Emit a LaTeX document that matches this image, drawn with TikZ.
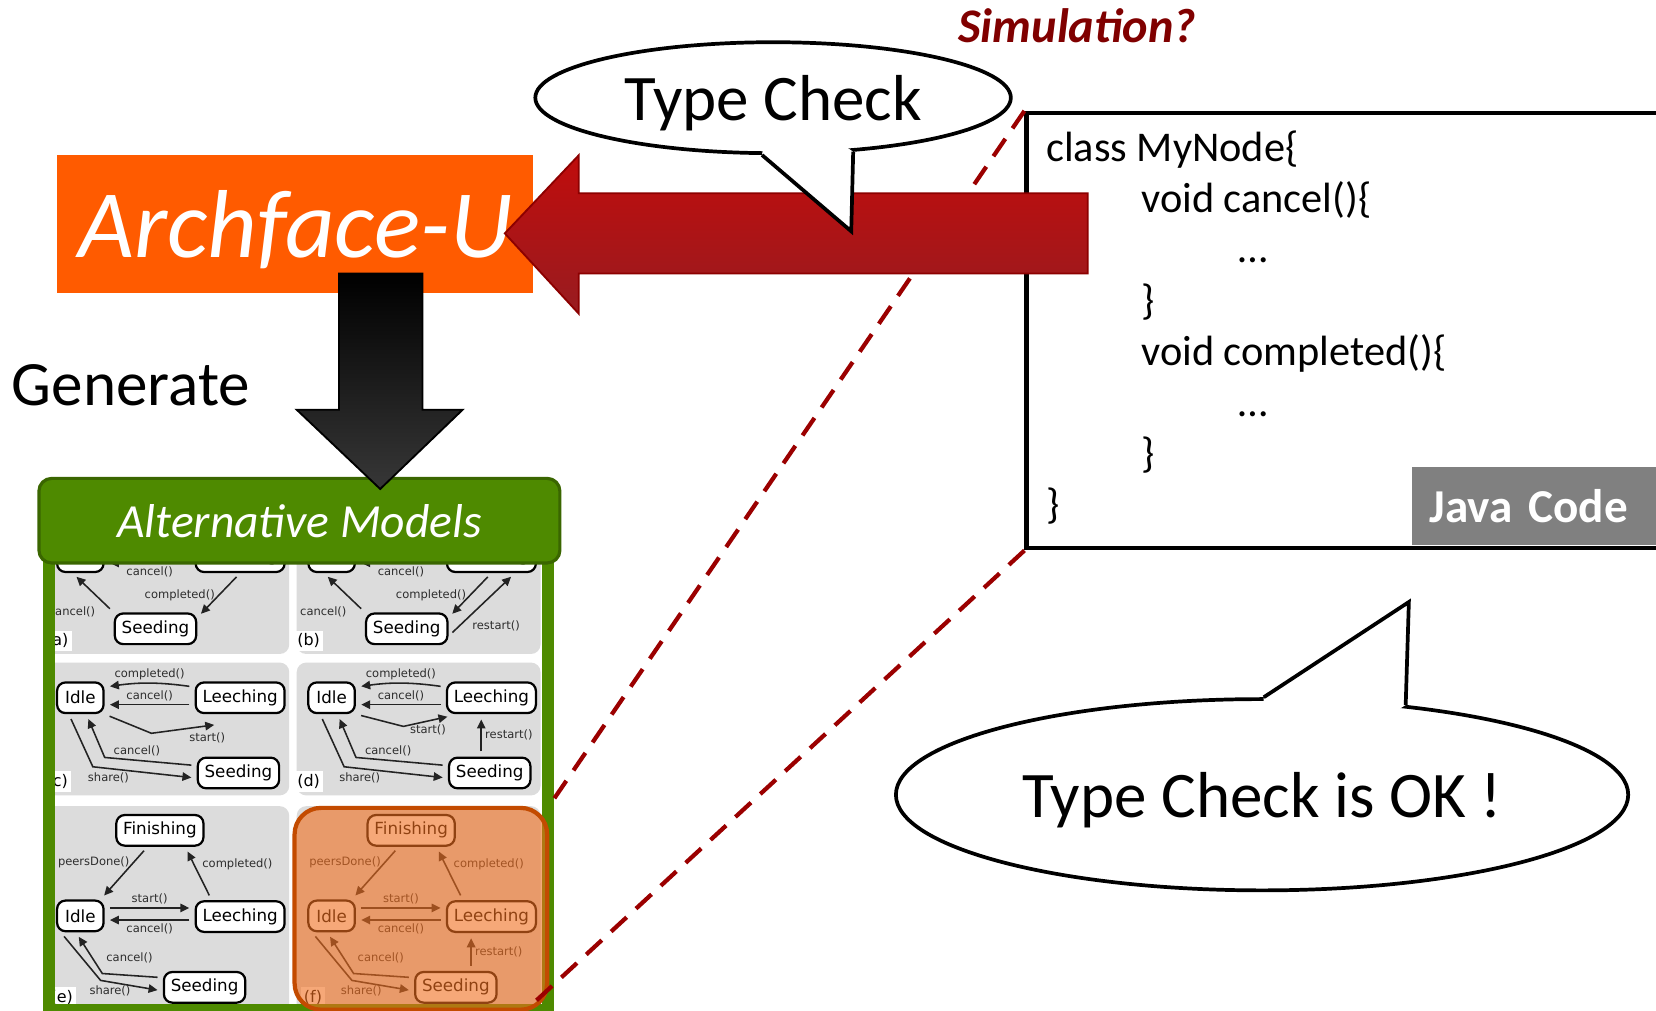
\documentclass[tikz,border=0pt]{standalone}
\usepackage{fontspec}
\setmainfont{Carlito}
\newfontfamily\figfont{DejaVu Sans}
\usepackage{tikz}
\usetikzlibrary{positioning,calc,shapes,arrows.meta}

\definecolor{archorange}{RGB}{255,91,0}
\definecolor{tcredtop}{RGB}{192,12,12}
\definecolor{tcredbot}{RGB}{152,28,32}
\definecolor{tcredline}{RGB}{140,0,0}
\definecolor{simred}{RGB}{128,0,0}
\definecolor{dashred}{RGB}{155,0,0}
\definecolor{genbot}{RGB}{55,55,55}
\definecolor{modelgreen}{RGB}{78,138,0}
\definecolor{modelgreendark}{RGB}{58,102,0}
\definecolor{panelgray}{RGB}{220,220,220}
\definecolor{figline}{RGB}{35,35,35}
\definecolor{figtext}{RGB}{45,45,45}
\definecolor{hlfill}{RGB}{240,110,30}
\definecolor{hlline}{RGB}{195,75,0}
\definecolor{javagray}{RGB}{128,128,128}

\tikzset{
  st/.style={draw=black, line width=0.6pt, fill=white, rounded corners=0.8mm,
    font=\figfont\fontsize{4.5}{5.4}\selectfont, inner xsep=0.65mm, inner ysep=0pt,
    minimum height=2.9mm, minimum width=4.4mm},
  tr/.style={draw=figline, line width=0.42pt, -{Triangle[length=0.85mm,width=0.8mm]},
    shorten >=0.5mm, shorten <=0.5mm},
  lbl/.style={font=\figfont\fontsize{3.1}{3.7}\selectfont, text=figtext, inner sep=0.3mm},
  plbl/.style={font=\figfont\fontsize{4.3}{5}\selectfont, fill=white, inner sep=0.3mm},
  panel/.style={fill=panelgray, rounded corners=0.9mm},
  frame/.style={draw=modelgreen, line width=1.15mm},
  titlebox/.style={draw=modelgreendark, line width=0.3mm, fill=modelgreen, rounded corners=1.2mm,
    text=white, font=\itshape\fontsize{12.8}{15}\selectfont},
  hl/.style={draw=hlline, line width=0.4mm, fill=hlfill, fill opacity=0.6, rounded corners=2.5mm},
  codebox/.style={draw=black, line width=0.4mm, fill=white},
  codetext/.style={anchor=base west, inner sep=0pt, font=\fontsize{11.4}{13}\selectfont},
  javabox/.style={fill=javagray, text=white, font=\bfseries\fontsize{12.7}{15}\selectfont,
    inner xsep=1.7mm, text width=2.3cm, minimum height=0.74cm, align=left},
  link/.style={draw=dashred, line width=0.4mm, dash pattern=on 2mm off 1.2mm},
  archbox/.style={fill=archorange, text=white, font=\itshape\fontsize{26}{30}\selectfont,
    text depth=0pt, inner sep=0pt},
  genarrow/.style={draw=black, line width=0.5pt, top color=black, bottom color=genbot},
  tcarrow/.style={draw=tcredline, line width=0.5pt, top color=tcredtop, bottom color=tcredbot},
  bubble/.style={ellipse, draw=black, fill=white, line width=1pt, inner sep=0pt,
    font=\fontsize{17.5}{21}\selectfont, text depth=0pt},
  bubbleline/.style={draw=black, line width=1pt},
}

\newcommand{\panelAB}[2]{%
  \fill[panel] (0,0) rectangle (720,384);
  \node[st] (idle) at (103,102) {Idle};
  \node[st] (lee) at (575,102) {Leeching};
  \node[st] (seed) at (325,311) {Seeding};
  \draw[tr] ($(lee.west)+(0,18)$) -- node[lbl, below] {cancel()} ($(idle.east)+(0,18)$);
  \draw[tr] (seed.north west) -- node[lbl, pos=0.02, left=1.3mm] {cancel()} (idle.-115);
  \draw[tr] (lee.south) -- node[lbl, left] {completed()} (seed.15);
  #2
  \node[plbl] (lab#1) at (35,346) {(#1)};
}

\newcommand{\panelCD}[3]{%
  \fill[panel] (0,0) rectangle (720,385);
  \node[st] (idle) at (103,102) {Idle};
  \node[st] (lee) at (575,102) {Leeching};
  \node[st] (seed) at (570,320) {Seeding};
  \draw[tr] ($(lee.west)+(0,-31)$) to[bend right=8] node[lbl, above] {completed()} ($(idle.east)+(0,-31)$);
  \draw[tr] ($(lee.west)+(0,20)$) -- node[lbl, above] {cancel()} ($(idle.east)+(0,20)$);
  \draw[tr] (idle.south east) -- #2;
  \draw[tr] (seed.170) -- node[lbl, pos=0.65, above] {cancel()} (175,275) -- (idle.-70);
  \draw[tr] (idle.-125) -- (140,302) -- node[lbl, pos=0.15, below] {share()} (seed.187);
  #3
  \node[plbl] (lab#1) at (35,345) {(#1)};
}

\newcommand{\panelEF}[2]{%
  \fill[panel] (0,0) rectangle (720,600);
  \node[st] (fin) at (338,70) {Finishing};
  \node[st] (idle) at (103,318) {Idle};
  \node[st] (lee) at (575,320) {Leeching};
  \node[st] (seed) at (470,525) {Seeding};
  \draw[tr] (fin.-127) -- node[lbl, pos=0.3, left] {peersDone()} (idle.39);
  \draw[tr] (lee.150) -- node[lbl, above right] {completed()} (fin.-33);
  \draw[tr] ($(idle.east)+(0,-23)$) -- node[lbl, above] {start()} ($(idle.east -| lee.west)+(0,-23)$);
  \draw[tr] ($(lee.west)+(0,10)$) -- node[lbl, below] {cancel()} ($(lee.west -| idle.east)+(0,10)$);
  \draw[tr] (seed.167) -- node[lbl, pos=0.55, above=0.8mm] {cancel()} (168,485) -- (idle.-105);
  \draw[tr] (idle.-140) -- (163,505) -- node[lbl, pos=0.15, below] {share()} (seed.185);
  #2
  \node[plbl] (lab#1) at (48,555) {(#1)};
}

\begin{document}
\begin{tikzpicture}[x=0.01cm, y=-0.01cm]
  \useasboundingbox (0,0) rectangle (1568,957);

  \begin{scope}
    \clip (46,520) rectangle (518,956);
    \fill[white] (46,520) rectangle (518,956);
    \begin{scope}[xshift=0.43cm, yshift=-4.935cm, x=0.0032cm, y=-0.00327cm]
      \panelAB{a}{}
    \end{scope}
    \begin{scope}[xshift=2.808cm, yshift=-4.935cm, x=0.0032cm, y=-0.00327cm]
      \panelAB{b}{\draw[tr] (seed.-10) -- node[lbl, pos=0.3, below right] {restart()} (lee.-35);}
    \end{scope}
    \begin{scope}[xshift=0.43cm, yshift=-6.27cm, x=0.0032cm, y=-0.00327cm]
      \panelCD{c}{(313,205) -- node[lbl, below right] {start()} ($(lee.south)+(-61,29)$)}{}
    \end{scope}
    \begin{scope}[xshift=2.808cm, yshift=-6.27cm, x=0.0032cm, y=-0.00327cm]
      \panelCD{d}{(315,185) -- node[lbl, below] {start()} ($(lee.south west)+(20,4)$)}%
        {\coordinate (r1) at ($(seed.north)+(-25,0)$);
         \draw[tr] (r1) -- node[lbl, right] {restart()} (r1 |- lee.south);}
    \end{scope}
    \begin{scope}[xshift=0.43cm, yshift=-7.629cm, x=0.0032cm, y=-0.00327cm]
      \panelEF{e}{}
    \end{scope}
    \begin{scope}[xshift=2.808cm, yshift=-7.629cm, x=0.0032cm, y=-0.00327cm]
      \panelEF{f}{\coordinate (r2) at ($(seed.north)+(45,0)$);
        \draw[tr] (r2) -- node[lbl, right] {restart()} (r2 |- lee.south);}
    \end{scope}
  \end{scope}

  \draw[frame] (46,520) -- (46,956) -- (518.5,956) -- (518.5,520);
  \node[titlebox, minimum width=4.93cm, minimum height=0.8cm] (alt) at (283.5,493) {Alternative Models};
  \node[hl, minimum width=2.39cm, minimum height=1.91cm] (sel) at (398.5,860.5) {};

  \node[codebox, minimum width=6.4cm, minimum height=4.12cm, anchor=north west] (code) at (970,105) {};
  \node[codetext] (c1) at (990,153) {class MyNode\{};
  \node[codetext] (c2) at (1080,201) {void cancel()\{};
  \node[codetext] (c3) at (1172,249) {…};
  \node[codetext] (c4) at (1080,298) {\}};
  \node[codetext] (c5) at (1080,346) {void completed()\{};
  \node[codetext] (c6) at (1172,394) {…};
  \node[codetext] (c7) at (1080,443) {\}};
  \node[codetext] (c8) at (990,491) {\}};
  \node[javabox, anchor=south west] (java) at (1336,517) {Java Code};

  \draw[link] (code.north west) -- (sel.north east);
  \draw[link] (code.south west) -- ($(sel.south east)+(-13,-10)$);

  \node[archbox, minimum width=4.51cm, minimum height=1.3cm] (arch) at (279.5,212) {Archface-U};
  \draw[genarrow] (321,259) -- (400,259) -- (400,388) -- (438,388) -- (360,463)
    -- (281,388) -- (321,388) -- cycle;
  \node[anchor=base, font=\fontsize{17}{20}\selectfont] (gen) at (124,384) {Generate};

  \draw[tcarrow] (1030,183) -- (548,183) -- (548,147) -- (478,221) -- (548,297)
    -- (548,259) -- (1030,259) -- cycle;

  \node[bubble, minimum width=4.5cm, minimum height=1.05cm] (tc) at (732,92.5) {Type Check};
  \coordinate (tctip) at (806,219);
  \fill[white] (tc.259) -- (tctip) -- (tc.326) -- ($(tc.326)!0.12!(tc.center)$)
    -- ($(tc.259)!0.12!(tc.center)$) -- cycle;
  \draw[bubbleline] (tc.259) -- (tctip) -- (tc.326);

  \node[bubble, minimum width=6.93cm, minimum height=1.81cm] (ok) at (1195,752.5) {Type Check is OK !};
  \coordinate (oktip) at (1334,570);
  \fill[white] (ok.89) -- (oktip) -- (ok.32) -- ($(ok.32)!0.12!(ok.center)$)
    -- ($(ok.89)!0.12!(ok.center)$) -- cycle;
  \draw[bubbleline] (ok.89) -- (oktip) -- (ok.32);

  \node[anchor=base, text=simred, font=\bfseries\itshape\fontsize{13}{15}\selectfont] (sim)
    at (1020,40) {Simulation?};
\end{tikzpicture}
\end{document}
